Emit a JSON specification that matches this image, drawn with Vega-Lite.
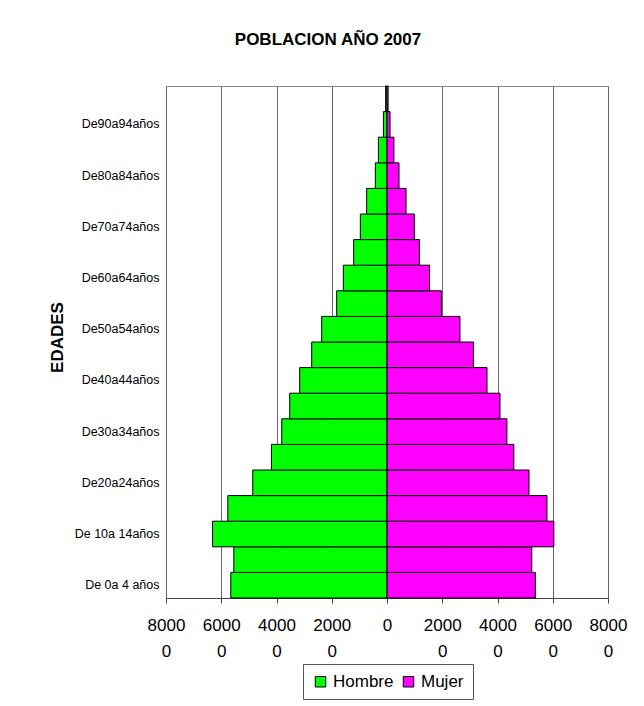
{
  "$schema": "https://vega.github.io/schema/vega-lite/v6.json",
  "width": 442,
  "height": 512,
  "autosize": {"type": "none"},
  "padding": {"left": 166, "top": 86, "right": 36, "bottom": 108},
  "background": "white",
  "title": {"text": "POBLACION AÑO 2007", "font": "Liberation Sans", "fontSize": 17, "fontWeight": "bold", "anchor": "middle", "frame": "group", "dx": -59, "offset": 37, "color": "black"},
  "data": {"values": [
    {"edad": "De 0a 4 años", "sexo": "Hombre", "poblacion": -56540},
    {"edad": "De 0a 4 años", "sexo": "Mujer", "poblacion": 53700},
    {"edad": "De 5a 9 años", "sexo": "Hombre", "poblacion": -55450},
    {"edad": "De 5a 9 años", "sexo": "Mujer", "poblacion": 52400},
    {"edad": "De 10a 14años", "sexo": "Hombre", "poblacion": -63150},
    {"edad": "De 10a 14años", "sexo": "Mujer", "poblacion": 60400},
    {"edad": "De15a19años", "sexo": "Hombre", "poblacion": -57620},
    {"edad": "De15a19años", "sexo": "Mujer", "poblacion": 57900},
    {"edad": "De20a24años", "sexo": "Hombre", "poblacion": -48590},
    {"edad": "De20a24años", "sexo": "Mujer", "poblacion": 51400},
    {"edad": "De25a29años", "sexo": "Hombre", "poblacion": -41830},
    {"edad": "De25a29años", "sexo": "Mujer", "poblacion": 45900},
    {"edad": "De30a34años", "sexo": "Hombre", "poblacion": -38100},
    {"edad": "De30a34años", "sexo": "Mujer", "poblacion": 43400},
    {"edad": "De35a39años", "sexo": "Hombre", "poblacion": -35210},
    {"edad": "De35a39años", "sexo": "Mujer", "poblacion": 40900},
    {"edad": "De40a44años", "sexo": "Hombre", "poblacion": -31600},
    {"edad": "De40a44años", "sexo": "Mujer", "poblacion": 36200},
    {"edad": "De45a49años", "sexo": "Hombre", "poblacion": -27260},
    {"edad": "De45a49años", "sexo": "Mujer", "poblacion": 31300},
    {"edad": "De50a54años", "sexo": "Hombre", "poblacion": -23640},
    {"edad": "De50a54años", "sexo": "Mujer", "poblacion": 26400},
    {"edad": "De55a59años", "sexo": "Hombre", "poblacion": -18220},
    {"edad": "De55a59años", "sexo": "Mujer", "poblacion": 19700},
    {"edad": "De60a64años", "sexo": "Hombre", "poblacion": -15800},
    {"edad": "De60a64años", "sexo": "Mujer", "poblacion": 15400},
    {"edad": "De65a69años", "sexo": "Hombre", "poblacion": -12070},
    {"edad": "De65a69años", "sexo": "Mujer", "poblacion": 11750},
    {"edad": "De70a74años", "sexo": "Hombre", "poblacion": -9650},
    {"edad": "De70a74años", "sexo": "Mujer", "poblacion": 9900},
    {"edad": "De75a79años", "sexo": "Hombre", "poblacion": -7370},
    {"edad": "De75a79años", "sexo": "Mujer", "poblacion": 6900},
    {"edad": "De80a84años", "sexo": "Hombre", "poblacion": -4230},
    {"edad": "De80a84años", "sexo": "Mujer", "poblacion": 4350},
    {"edad": "De85a89años", "sexo": "Hombre", "poblacion": -3100},
    {"edad": "De85a89años", "sexo": "Mujer", "poblacion": 2500},
    {"edad": "De90a94años", "sexo": "Hombre", "poblacion": -1300},
    {"edad": "De90a94años", "sexo": "Mujer", "poblacion": 1100},
    {"edad": "De95ymás", "sexo": "Hombre", "poblacion": -500},
    {"edad": "De95ymás", "sexo": "Mujer", "poblacion": 400}
  ]},
  "mark": {"type": "bar", "stroke": "black", "strokeWidth": 1},
  "encoding": {
    "y": {
      "field": "edad", "type": "nominal",
      "sort": ["De95ymás", "De90a94años", "De85a89años", "De80a84años", "De75a79años", "De70a74años", "De65a69años", "De60a64años", "De55a59años", "De50a54años", "De45a49años", "De40a44años", "De35a39años", "De30a34años", "De25a29años", "De20a24años", "De15a19años", "De 10a 14años", "De 5a 9 años", "De 0a 4 años"],
      "scale": {"paddingInner": 0, "paddingOuter": 0},
      "axis": {
        "title": "EDADES",
        "values": ["De90a94años", "De80a84años", "De70a74años", "De60a64años", "De50a54años", "De40a44años", "De30a34años", "De20a24años", "De 10a 14años", "De 0a 4 años"],
        "ticks": false, "domain": false,
        "labelFont": "Liberation Sans", "labelFontSize": 12.5, "labelColor": "black", "labelPadding": 7,
        "titleFont": "Liberation Sans", "titleFontSize": 17, "titleFontWeight": "bold", "titleColor": "black",
        "titleX": -109, "titleY": 251, "titleAlign": "center", "titleBaseline": "middle", "titleAngle": -90
      }
    },
    "x": {
      "field": "poblacion", "type": "quantitative", "stack": null,
      "scale": {"domain": [-80000, 80000], "nice": false},
      "axis": {
        "title": null,
        "values": [-80000, -60000, -40000, -20000, 0, 20000, 40000, 60000, 80000],
        "labelExpr": "datum.value == 0 ? '0' : [format(abs(datum.value) / 10, 'd'), '0']",
        "labelFont": "Liberation Sans", "labelFontSize": 17, "labelColor": "black", "labelLineHeight": 26,
        "labelPadding": 14, "tickSize": 5, "tickColor": "#444", "domainColor": "#444",
        "grid": true, "gridColor": "#666", "gridOpacity": 1, "labelFlush": false, "labelOverlap": false
      }
    },
    "color": {
      "field": "sexo", "type": "nominal",
      "scale": {"domain": ["Hombre", "Mujer"], "range": ["#00ff00", "#ff00ff"]},
      "legend": {
        "title": null, "orient": "none", "legendX": 137, "legendY": 578, "direction": "horizontal",
        "fillColor": "white", "strokeColor": "#555", "padding": 9,
        "labelFont": "Liberation Sans", "labelFontSize": 17, "labelColor": "black",
        "symbolType": "square", "symbolSize": 110, "symbolStrokeColor": "black", "symbolStrokeWidth": 1, "symbolOpacity": 1,
        "columnPadding": 6, "labelOffset": 4
      }
    }
  },
  "config": {"view": {"stroke": "#888"}}
}
